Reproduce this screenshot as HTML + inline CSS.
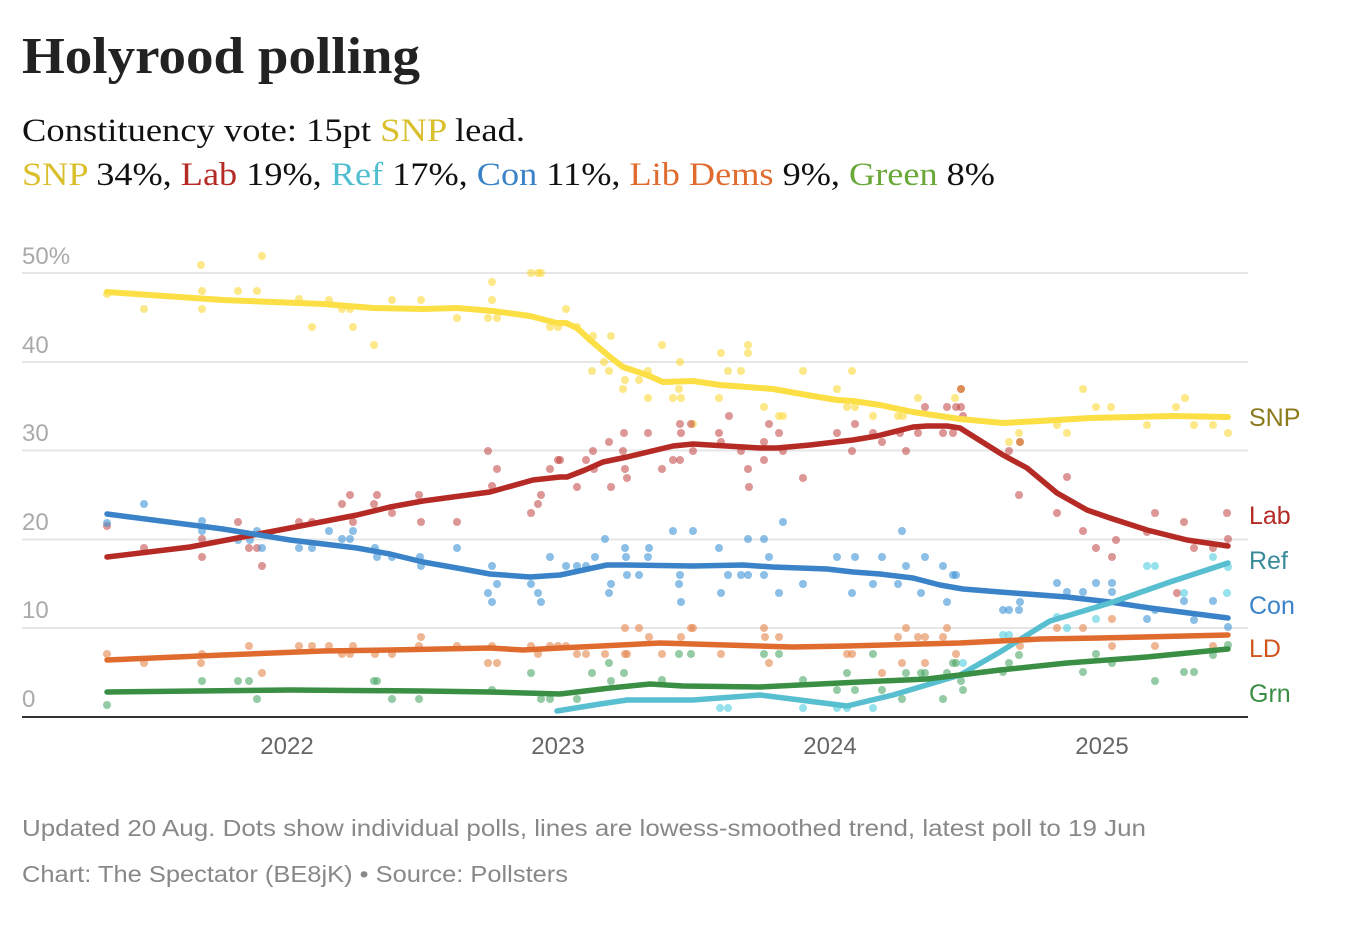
<!DOCTYPE html>
<html><head><meta charset="utf-8"><style>
html,body{margin:0;padding:0;background:#fff;}
svg{display:block;}
</style></head><body>
<svg width="1350" height="926" viewBox="0 0 1350 926" xmlns="http://www.w3.org/2000/svg">
<text x="22" y="73" font-family="Liberation Serif, serif" font-weight="bold" font-size="52" fill="#222" textLength="398" lengthAdjust="spacingAndGlyphs">Holyrood polling</text>
<text x="22" y="141" font-family="Liberation Serif, serif" font-size="33" fill="#111" textLength="503" lengthAdjust="spacingAndGlyphs">Constituency vote: 15pt <tspan fill="#d9bf2c">SNP</tspan> lead.</text>
<text x="22" y="185" font-family="Liberation Serif, serif" font-size="33" fill="#111" textLength="973" lengthAdjust="spacingAndGlyphs"><tspan fill="#d9bf2c">SNP</tspan> 34%, <tspan fill="#b52a24">Lab</tspan> 19%, <tspan fill="#4fbfd0">Ref</tspan> 17%, <tspan fill="#3a83c8">Con</tspan> 11%, <tspan fill="#e06b2e">Lib Dems</tspan> 9%, <tspan fill="#6aa83a">Green</tspan> 8%</text>

<g stroke="#e6e6e6" stroke-width="2">
<line x1="22" y1="273" x2="1248" y2="273"/>
<line x1="22" y1="362" x2="1248" y2="362"/>
<line x1="22" y1="450.5" x2="1248" y2="450.5"/>
<line x1="22" y1="539.5" x2="1248" y2="539.5"/>
<line x1="22" y1="628" x2="1248" y2="628"/>
</g>
<g font-family="Liberation Sans, sans-serif" font-size="24" fill="#aaa">
<text x="22" y="264">50%</text>
<text x="22" y="353">40</text>
<text x="22" y="441">30</text>
<text x="22" y="530">20</text>
<text x="22" y="618">10</text>
<text x="22" y="707">0</text>
</g>

<!-- dots -->
<g fill="#fcd93a" fill-opacity="0.6">
<circle cx="107" cy="294" r="4"/><circle cx="144" cy="309" r="4"/><circle cx="201" cy="265" r="4"/><circle cx="202" cy="291" r="4"/><circle cx="202" cy="309" r="4"/><circle cx="238" cy="291" r="4"/><circle cx="257" cy="291" r="4"/><circle cx="262" cy="256" r="4"/><circle cx="299" cy="299" r="4"/><circle cx="312" cy="327" r="4"/><circle cx="329" cy="300" r="4"/><circle cx="342" cy="309" r="4"/><circle cx="350" cy="309" r="4"/><circle cx="353" cy="327" r="4"/><circle cx="374" cy="345" r="4"/><circle cx="392" cy="300" r="4"/><circle cx="421" cy="300" r="4"/><circle cx="457" cy="318" r="4"/><circle cx="488" cy="318" r="4"/><circle cx="492" cy="300" r="4"/><circle cx="492" cy="282" r="4"/><circle cx="497" cy="318" r="4"/><circle cx="531" cy="273" r="4"/><circle cx="538" cy="273" r="4"/><circle cx="541" cy="273" r="4"/><circle cx="550" cy="327" r="4"/><circle cx="558" cy="327" r="4"/><circle cx="566" cy="309" r="4"/>
<circle cx="577" cy="327" r="4"/><circle cx="593" cy="336" r="4"/><circle cx="592" cy="371" r="4"/><circle cx="604" cy="362" r="4"/><circle cx="609" cy="371" r="4"/><circle cx="611" cy="336" r="4"/><circle cx="623" cy="389" r="4"/><circle cx="625" cy="380" r="4"/><circle cx="639" cy="380" r="4"/><circle cx="648" cy="371" r="4"/><circle cx="648" cy="398" r="4"/><circle cx="662" cy="345" r="4"/><circle cx="673" cy="398" r="4"/><circle cx="679" cy="389" r="4"/><circle cx="680" cy="362" r="4"/><circle cx="681" cy="398" r="4"/><circle cx="693" cy="424" r="4"/><circle cx="719" cy="398" r="4"/><circle cx="721" cy="353" r="4"/><circle cx="728" cy="371" r="4"/><circle cx="741" cy="371" r="4"/><circle cx="748" cy="345" r="4"/><circle cx="748" cy="353" r="4"/><circle cx="764" cy="407" r="4"/><circle cx="779" cy="416" r="4"/><circle cx="783" cy="416" r="4"/><circle cx="803" cy="371" r="4"/><circle cx="837" cy="389" r="4"/><circle cx="847" cy="407" r="4"/><circle cx="852" cy="371" r="4"/><circle cx="855" cy="407" r="4"/><circle cx="873" cy="416" r="4"/><circle cx="898" cy="416" r="4"/><circle cx="903" cy="416" r="4"/><circle cx="918" cy="398" r="4"/><circle cx="955" cy="398" r="4"/><circle cx="1009" cy="442" r="4"/><circle cx="1019" cy="433" r="4"/><circle cx="1057" cy="425" r="4"/><circle cx="1067" cy="433" r="4"/><circle cx="1083" cy="389" r="4"/><circle cx="1096" cy="407" r="4"/><circle cx="1111" cy="407" r="4"/><circle cx="1147" cy="425" r="4"/><circle cx="1176" cy="407" r="4"/><circle cx="1185" cy="398" r="4"/><circle cx="1194" cy="425" r="4"/><circle cx="1213" cy="425" r="4"/><circle cx="1228" cy="433" r="4"/>
</g>
<g fill="#c0403e" fill-opacity="0.55">
<circle cx="107" cy="526" r="4"/><circle cx="144" cy="548" r="4"/><circle cx="202" cy="557" r="4"/><circle cx="202" cy="539" r="4"/><circle cx="238" cy="522" r="4"/><circle cx="249" cy="548" r="4"/><circle cx="257" cy="548" r="4"/><circle cx="262" cy="566" r="4"/><circle cx="299" cy="522" r="4"/><circle cx="312" cy="522" r="4"/><circle cx="342" cy="504" r="4"/><circle cx="350" cy="495" r="4"/><circle cx="353" cy="522" r="4"/><circle cx="374" cy="504" r="4"/><circle cx="377" cy="495" r="4"/><circle cx="392" cy="513" r="4"/><circle cx="419" cy="495" r="4"/><circle cx="421" cy="522" r="4"/><circle cx="457" cy="522" r="4"/><circle cx="492" cy="486" r="4"/><circle cx="488" cy="451" r="4"/><circle cx="497" cy="469" r="4"/><circle cx="531" cy="513" r="4"/><circle cx="538" cy="504" r="4"/><circle cx="541" cy="495" r="4"/><circle cx="550" cy="469" r="4"/><circle cx="558" cy="460" r="4"/>
<circle cx="560" cy="460" r="4"/><circle cx="577" cy="487" r="4"/><circle cx="586" cy="460" r="4"/><circle cx="593" cy="451" r="4"/><circle cx="594" cy="469" r="4"/><circle cx="609" cy="442" r="4"/><circle cx="611" cy="487" r="4"/><circle cx="624" cy="433" r="4"/><circle cx="623" cy="451" r="4"/><circle cx="625" cy="469" r="4"/><circle cx="627" cy="478" r="4"/><circle cx="648" cy="433" r="4"/><circle cx="662" cy="469" r="4"/><circle cx="673" cy="460" r="4"/><circle cx="680" cy="424" r="4"/><circle cx="681" cy="433" r="4"/><circle cx="680" cy="460" r="4"/><circle cx="691" cy="424" r="4"/><circle cx="693" cy="451" r="4"/><circle cx="719" cy="433" r="4"/><circle cx="721" cy="442" r="4"/><circle cx="729" cy="416" r="4"/><circle cx="741" cy="451" r="4"/><circle cx="748" cy="469" r="4"/><circle cx="749" cy="487" r="4"/><circle cx="764" cy="442" r="4"/><circle cx="764" cy="460" r="4"/><circle cx="769" cy="424" r="4"/><circle cx="779" cy="433" r="4"/><circle cx="783" cy="451" r="4"/><circle cx="803" cy="478" r="4"/><circle cx="837" cy="433" r="4"/><circle cx="852" cy="451" r="4"/><circle cx="855" cy="424" r="4"/><circle cx="873" cy="433" r="4"/><circle cx="882" cy="442" r="4"/><circle cx="900" cy="433" r="4"/><circle cx="906" cy="451" r="4"/><circle cx="918" cy="433" r="4"/><circle cx="925" cy="407" r="4"/><circle cx="943" cy="433" r="4"/><circle cx="947" cy="407" r="4"/><circle cx="953" cy="433" r="4"/><circle cx="956" cy="407" r="4"/><circle cx="961" cy="407" r="4"/><circle cx="963" cy="416" r="4"/><circle cx="1009" cy="451" r="4"/><circle cx="1019" cy="495" r="4"/><circle cx="1057" cy="513" r="4"/><circle cx="1067" cy="477" r="4"/><circle cx="1083" cy="531" r="4"/><circle cx="1096" cy="548" r="4"/><circle cx="1112" cy="557" r="4"/><circle cx="1116" cy="540" r="4"/><circle cx="1155" cy="513" r="4"/><circle cx="1147" cy="532" r="4"/><circle cx="1184" cy="522" r="4"/><circle cx="1177" cy="593" r="4"/><circle cx="1194" cy="548" r="4"/><circle cx="1213" cy="548" r="4"/><circle cx="1227" cy="513" r="4"/><circle cx="1228" cy="539" r="4"/>
</g>
<g fill="#d4702c" fill-opacity="0.8">
<circle cx="961" cy="389" r="4"/><circle cx="1020" cy="442" r="4"/>
</g>
<g fill="#3d95d6" fill-opacity="0.6">
<circle cx="107" cy="523" r="4"/><circle cx="144" cy="504" r="4"/><circle cx="202" cy="521" r="4"/><circle cx="202" cy="531" r="4"/><circle cx="238" cy="540" r="4"/><circle cx="250" cy="540" r="4"/><circle cx="257" cy="531" r="4"/><circle cx="262" cy="548" r="4"/><circle cx="299" cy="548" r="4"/><circle cx="312" cy="548" r="4"/><circle cx="329" cy="531" r="4"/><circle cx="342" cy="539" r="4"/><circle cx="350" cy="539" r="4"/><circle cx="353" cy="531" r="4"/><circle cx="375" cy="548" r="4"/><circle cx="377" cy="557" r="4"/><circle cx="392" cy="557" r="4"/><circle cx="420" cy="557" r="4"/><circle cx="421" cy="566" r="4"/><circle cx="457" cy="548" r="4"/><circle cx="488" cy="593" r="4"/><circle cx="492" cy="566" r="4"/><circle cx="492" cy="602" r="4"/><circle cx="497" cy="584" r="4"/><circle cx="531" cy="584" r="4"/><circle cx="538" cy="593" r="4"/><circle cx="541" cy="602" r="4"/><circle cx="550" cy="557" r="4"/><circle cx="566" cy="566" r="4"/>
<circle cx="577" cy="566" r="4"/><circle cx="586" cy="566" r="4"/><circle cx="595" cy="557" r="4"/><circle cx="605" cy="539" r="4"/><circle cx="609" cy="593" r="4"/><circle cx="611" cy="584" r="4"/><circle cx="625" cy="548" r="4"/><circle cx="626" cy="557" r="4"/><circle cx="627" cy="575" r="4"/><circle cx="639" cy="575" r="4"/><circle cx="648" cy="557" r="4"/><circle cx="649" cy="548" r="4"/><circle cx="673" cy="531" r="4"/><circle cx="679" cy="584" r="4"/><circle cx="680" cy="575" r="4"/><circle cx="681" cy="602" r="4"/><circle cx="693" cy="531" r="4"/><circle cx="719" cy="548" r="4"/><circle cx="721" cy="593" r="4"/><circle cx="728" cy="575" r="4"/><circle cx="741" cy="575" r="4"/><circle cx="748" cy="539" r="4"/><circle cx="748" cy="575" r="4"/><circle cx="764" cy="539" r="4"/><circle cx="764" cy="575" r="4"/><circle cx="769" cy="557" r="4"/><circle cx="779" cy="593" r="4"/><circle cx="783" cy="522" r="4"/><circle cx="803" cy="584" r="4"/><circle cx="837" cy="557" r="4"/><circle cx="852" cy="593" r="4"/><circle cx="855" cy="557" r="4"/><circle cx="873" cy="584" r="4"/><circle cx="882" cy="557" r="4"/><circle cx="898" cy="584" r="4"/><circle cx="902" cy="531" r="4"/><circle cx="906" cy="566" r="4"/><circle cx="921" cy="593" r="4"/><circle cx="925" cy="557" r="4"/><circle cx="943" cy="566" r="4"/><circle cx="947" cy="602" r="4"/><circle cx="953" cy="575" r="4"/><circle cx="956" cy="575" r="4"/><circle cx="1003" cy="610" r="4"/><circle cx="1009" cy="610" r="4"/><circle cx="1019" cy="610" r="4"/><circle cx="1020" cy="602" r="4"/><circle cx="1057" cy="583" r="4"/><circle cx="1067" cy="592" r="4"/><circle cx="1083" cy="592" r="4"/><circle cx="1096" cy="583" r="4"/><circle cx="1112" cy="583" r="4"/><circle cx="1112" cy="592" r="4"/><circle cx="1147" cy="619" r="4"/><circle cx="1155" cy="610" r="4"/><circle cx="1184" cy="601" r="4"/><circle cx="1194" cy="620" r="4"/><circle cx="1213" cy="601" r="4"/><circle cx="1228" cy="627" r="4"/>
</g>
<g fill="#e5864d" fill-opacity="0.6">
<circle cx="107" cy="654" r="4"/><circle cx="144" cy="663" r="4"/><circle cx="201" cy="663" r="4"/><circle cx="202" cy="654" r="4"/><circle cx="249" cy="646" r="4"/><circle cx="262" cy="673" r="4"/><circle cx="299" cy="646" r="4"/><circle cx="312" cy="646" r="4"/><circle cx="329" cy="646" r="4"/><circle cx="342" cy="654" r="4"/><circle cx="350" cy="654" r="4"/><circle cx="353" cy="646" r="4"/><circle cx="375" cy="654" r="4"/><circle cx="392" cy="654" r="4"/><circle cx="421" cy="637" r="4"/><circle cx="419" cy="646" r="4"/><circle cx="457" cy="646" r="4"/><circle cx="488" cy="663" r="4"/><circle cx="497" cy="663" r="4"/><circle cx="492" cy="646" r="4"/><circle cx="531" cy="646" r="4"/><circle cx="538" cy="654" r="4"/><circle cx="550" cy="646" r="4"/><circle cx="558" cy="646" r="4"/><circle cx="566" cy="646" r="4"/>
<circle cx="577" cy="654" r="4"/><circle cx="586" cy="654" r="4"/><circle cx="605" cy="654" r="4"/><circle cx="625" cy="628" r="4"/><circle cx="625" cy="654" r="4"/><circle cx="627" cy="654" r="4"/><circle cx="639" cy="628" r="4"/><circle cx="649" cy="637" r="4"/><circle cx="662" cy="654" r="4"/><circle cx="681" cy="637" r="4"/><circle cx="691" cy="628" r="4"/><circle cx="693" cy="628" r="4"/><circle cx="721" cy="654" r="4"/><circle cx="764" cy="628" r="4"/><circle cx="765" cy="637" r="4"/><circle cx="769" cy="663" r="4"/><circle cx="779" cy="637" r="4"/><circle cx="847" cy="654" r="4"/><circle cx="852" cy="654" r="4"/><circle cx="882" cy="673" r="4"/><circle cx="898" cy="637" r="4"/><circle cx="902" cy="663" r="4"/><circle cx="906" cy="628" r="4"/><circle cx="918" cy="637" r="4"/><circle cx="925" cy="637" r="4"/><circle cx="925" cy="663" r="4"/><circle cx="943" cy="637" r="4"/><circle cx="947" cy="628" r="4"/><circle cx="956" cy="654" r="4"/><circle cx="1020" cy="646" r="4"/><circle cx="1057" cy="628" r="4"/><circle cx="1083" cy="628" r="4"/><circle cx="1112" cy="619" r="4"/><circle cx="1112" cy="646" r="4"/><circle cx="1155" cy="646" r="4"/><circle cx="1213" cy="646" r="4"/>
</g>
<g fill="#4fa968" fill-opacity="0.6">
<circle cx="107" cy="705" r="4"/><circle cx="202" cy="681" r="4"/><circle cx="238" cy="681" r="4"/><circle cx="249" cy="681" r="4"/><circle cx="257" cy="699" r="4"/><circle cx="374" cy="681" r="4"/><circle cx="377" cy="681" r="4"/><circle cx="392" cy="699" r="4"/><circle cx="419" cy="699" r="4"/><circle cx="492" cy="690" r="4"/><circle cx="531" cy="673" r="4"/><circle cx="541" cy="699" r="4"/><circle cx="550" cy="699" r="4"/>
<circle cx="577" cy="699" r="4"/><circle cx="592" cy="673" r="4"/><circle cx="609" cy="663" r="4"/><circle cx="611" cy="681" r="4"/><circle cx="624" cy="673" r="4"/><circle cx="662" cy="680" r="4"/><circle cx="679" cy="654" r="4"/><circle cx="691" cy="654" r="4"/><circle cx="764" cy="654" r="4"/><circle cx="779" cy="654" r="4"/><circle cx="803" cy="680" r="4"/><circle cx="837" cy="690" r="4"/><circle cx="847" cy="673" r="4"/><circle cx="855" cy="690" r="4"/><circle cx="873" cy="654" r="4"/><circle cx="882" cy="690" r="4"/><circle cx="902" cy="699" r="4"/><circle cx="906" cy="673" r="4"/><circle cx="921" cy="673" r="4"/><circle cx="925" cy="673" r="4"/><circle cx="943" cy="699" r="4"/><circle cx="947" cy="673" r="4"/><circle cx="953" cy="663" r="4"/><circle cx="956" cy="663" r="4"/><circle cx="961" cy="681" r="4"/><circle cx="963" cy="690" r="4"/><circle cx="1003" cy="672" r="4"/><circle cx="1009" cy="663" r="4"/><circle cx="1019" cy="655" r="4"/><circle cx="1083" cy="672" r="4"/><circle cx="1096" cy="654" r="4"/><circle cx="1112" cy="663" r="4"/><circle cx="1155" cy="681" r="4"/><circle cx="1184" cy="672" r="4"/><circle cx="1194" cy="672" r="4"/><circle cx="1213" cy="655" r="4"/><circle cx="1228" cy="645" r="4"/>
</g>
<g fill="#4fcde0" fill-opacity="0.6">
<circle cx="720" cy="708" r="4"/><circle cx="728" cy="708" r="4"/><circle cx="803" cy="708" r="4"/><circle cx="837" cy="708" r="4"/><circle cx="847" cy="708" r="4"/><circle cx="873" cy="708" r="4"/><circle cx="963" cy="663" r="4"/><circle cx="1003" cy="635" r="4"/><circle cx="1009" cy="635" r="4"/><circle cx="1057" cy="617" r="4"/><circle cx="1067" cy="628" r="4"/><circle cx="1096" cy="619" r="4"/><circle cx="1147" cy="566" r="4"/><circle cx="1155" cy="566" r="4"/><circle cx="1184" cy="593" r="4"/><circle cx="1213" cy="557" r="4"/><circle cx="1227" cy="593" r="4"/><circle cx="1228" cy="567" r="4"/>
</g>

<!-- trend lines -->
<g fill="none" stroke-linejoin="round" stroke-linecap="round" stroke-width="5.5">
<polyline stroke="#fbdf45" stroke-width="6" points="107,292 150,295 223,300 323,304 373,308 423,309 457,308 493,311 530,316 557,323 566,323 577,328 590,340 610,357 623,367 647,375 663,382 693,381 720,385 747,387 773,389 807,395 837,400 853,401 880,405 913,412 960,419 1003,423 1040,421 1090,418 1173,416 1228,417"/>
<polyline stroke="#b52a24" points="107,557 190,547 290,528 357,515 390,507 423,501 490,492 533,480 560,477 567,477 585,470 603,462 627,457 673,446 693,444 760,448 777,448 810,445 853,440 877,436 913,427 927,426 947,426 960,428 1003,455 1027,468 1057,493 1087,510 1110,518 1147,530 1187,540 1228,546"/>
<polyline stroke="#3a83c8" points="107,514 223,529 290,540 357,548 390,554 423,562 457,568 490,574 530,577 545,576 560,575 607,565 627,565 693,566 743,565 773,567 827,569 853,572 880,574 913,578 940,585 963,589 1000,592 1067,597 1110,602 1150,608 1228,618"/>
<polyline stroke="#58bfd0" points="557,711 600,704 627,700 693,700 760,695 800,700 847,706 893,695 960,675 1000,652 1040,627 1050,621 1110,603 1170,582 1228,563"/>
<polyline stroke="#e06b2e" points="107,660 223,655 323,651 390,650 490,648 523,650 560,648 660,643 793,647 847,646 960,643 1040,639 1100,638 1228,635"/>
<polyline stroke="#3a8f45" points="107,692 290,690 423,691 490,692 560,694 610,688 650,684 683,686 760,687 860,682 927,679 960,675 1000,670 1067,663 1147,657 1228,649"/>
</g>

<line x1="22" y1="717" x2="1248" y2="717" stroke="#333" stroke-width="2"/>

<g font-family="Liberation Sans, sans-serif" font-size="25">
<text x="1249" y="426" fill="#8b7a1c">SNP</text>
<text x="1249" y="524" fill="#b52a24">Lab</text>
<text x="1249" y="569" fill="#3a8a9c">Ref</text>
<text x="1249" y="614" fill="#3a83c8">Con</text>
<text x="1249" y="657" fill="#d0561e">LD</text>
<text x="1249" y="702" fill="#3a8f45">Grn</text>
</g>

<g font-family="Liberation Sans, sans-serif" font-size="24" fill="#666" text-anchor="middle">
<text x="287" y="754">2022</text>
<text x="558" y="754">2023</text>
<text x="830" y="754">2024</text>
<text x="1102" y="754">2025</text>
</g>

<text x="22" y="836" font-family="Liberation Sans, sans-serif" font-size="23" fill="#888" textLength="1124" lengthAdjust="spacingAndGlyphs">Updated 20 Aug. Dots show individual polls, lines are lowess-smoothed trend, latest poll to 19 Jun</text>
<text x="22" y="882" font-family="Liberation Sans, sans-serif" font-size="23" fill="#888" textLength="546" lengthAdjust="spacingAndGlyphs">Chart: The Spectator (BE8jK) • Source: Pollsters</text>
</svg>
</body></html>
